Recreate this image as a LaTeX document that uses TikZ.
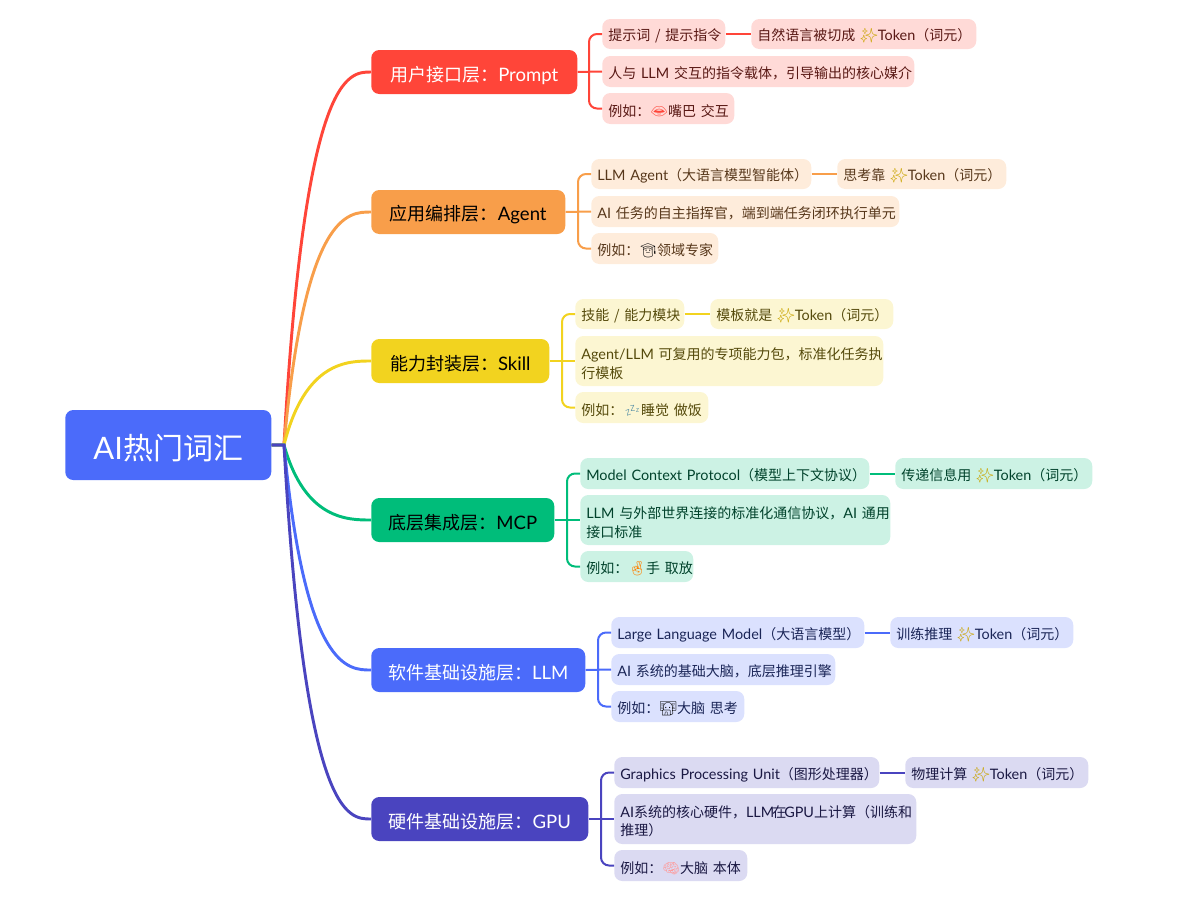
\documentclass[tikz,border=0pt]{standalone}
\usepackage{fontspec}
\setmainfont[Scale=1.03]{Lato}
\newfontfamily\cjkfont{Noto Sans CJK SC}
\newfontfamily\emojifont{Noto Emoji}
\newcommand{\zh}[1]{{\cjkfont #1}}
\newcommand{\emo}[2]{\textcolor{#1}{\emojifont #2}}
\newcommand{\tokenword}{\emo{sparkgold}{✨}Token\zh{（词元）}}

\definecolor{promptred}{HTML}{FF4539}
\definecolor{agentorange}{HTML}{F89E4A}
\definecolor{skillyellow}{HTML}{F2D31F}
\definecolor{mcpgreen}{HTML}{00BD7A}
\definecolor{llmblue}{HTML}{4B6BFA}
\definecolor{gpuviolet}{HTML}{4A44BF}
\definecolor{sparkgold}{HTML}{C9A400}

\tikzset{
  rootbox/.style={draw=none, fill=llmblue, text=white, rounded corners=6pt, anchor=west,
    minimum width=154.5pt, minimum height=52.5pt, font=\fontsize{22.5}{27}\selectfont,
    execute at begin node={\rule{0pt}{23pt}}},
  branchbox/.style 2 args={draw=none, fill=#1, rounded corners=6pt, anchor=west,
    minimum width={#2*0.75pt}, minimum height=33pt, font=\fontsize{13.5}{16}\selectfont,
    execute at begin node={\rule{0pt}{16pt}}},
  leafbox/.style n args={3}{fill=#1!20, text=#1!35!black, rounded corners=6pt, anchor=west,
    inner xsep=4.5pt, inner ysep=0pt, text width={(#2-12)*0.75pt}, align=left,
    minimum height={#3*0.75pt}, font=\fontsize{10.5}{14.2}\selectfont,
    execute at begin node={\hyphenpenalty=10000\rule{0pt}{12.2pt}}},
  bough/.style={draw=#1, line width=2.2pt},
  twig/.style={draw=#1, line width=1.5pt, rounded corners=6pt}
}

\begin{document}
\begin{tikzpicture}[x=0.75pt, y=-0.75pt]
    \useasboundingbox (0,0) rectangle (1201,900);

    % -----------------------------------------------------
    % 1) Central topic and the six layers
    % -----------------------------------------------------
    \node[rootbox] (root) at (65,445) {AI\zh{热门词汇}};
    \coordinate (hub) at (284,445);

    \node[branchbox={promptred}{206}, text=white] (prompt) at (371,72) {\zh{用户接口层：}Prompt};
    \node[branchbox={agentorange}{194}] (agent) at (371,212) {\zh{应用编排层：}Agent};
    \node[branchbox={skillyellow}{178}] (skill) at (371,361) {\zh{能力封装层：}Skill};
    \node[branchbox={mcpgreen}{183}] (mcp) at (371,520) {\zh{底层集成层：}MCP};
    \node[branchbox={llmblue}{214}, text=white] (llm) at (371,670) {\zh{软件基础设施层：}LLM};
    \node[branchbox={gpuviolet}{217}, text=white] (gpu) at (371,819) {\zh{硬件基础设施层：}GPU};

    % Curves from the hub, last one lies on top of the stub
    \draw[bough=promptred] (root.east) -- (hub) .. controls (305,72) and (348,72) .. (prompt.west);
    \draw[bough=agentorange] (root.east) -- (hub) .. controls (305,212) and (348,212) .. (agent.west);
    \draw[bough=skillyellow] (root.east) -- (hub) .. controls (305,361) and (348,361) .. (skill.west);
    \draw[bough=mcpgreen] (root.east) -- (hub) .. controls (305,520) and (348,520) .. (mcp.west);
    \draw[bough=llmblue] (root.east) -- (hub) .. controls (305,670) and (348,670) .. (llm.west);
    \draw[bough=gpuviolet] (root.east) -- (hub) .. controls (305,819) and (348,819) .. (gpu.west);

    % -----------------------------------------------------
    % 2) Prompt
    % -----------------------------------------------------
    \node[leafbox={promptred}{123}{30}] (prompt1) at (602,34) {\zh{提示词~/~提示指令}};
    \node[leafbox={promptred}{225}{30}] (prompt1b) at (751,34) {\zh{自然语言被切成}~\tokenword};
    \node[leafbox={promptred}{312}{31}] (prompt2) at (602,71.5) {\zh{人与}~LLM~\zh{交互的指令载体，引导输出的核心媒介}};
    \node[leafbox={promptred}{132}{31}] (prompt3) at (602,108.5) {\zh{例如：}\emo{promptred}{👄}\zh{嘴巴~交互}};
    \coordinate (promptbus) at (589,72);
    \draw[twig=promptred] (prompt1.west) -| (promptbus) |- (prompt3.west);
    \draw[twig=promptred] (prompt.east) -- (prompt2.west);
    \draw[twig=promptred] (prompt1.east) -- (prompt1b.west);

    % -----------------------------------------------------
    % 3) Agent
    % -----------------------------------------------------
    \node[leafbox={agentorange}{220}{30}] (agent1) at (591,174) {LLM~Agent\zh{（大语言模型智能体）}};
    \node[leafbox={agentorange}{169}{30}] (agent1b) at (837,174) {\zh{思考靠}~\tokenword};
    \node[leafbox={agentorange}{308}{31}] (agent2) at (591,211.5) {AI~\zh{任务的自主指挥官，端到端任务闭环执行单元}};
    \node[leafbox={agentorange}{127}{31}] (agent3) at (591,248.5) {\zh{例如：}\emo{black}{🧑‍🎓}\zh{领域专家}};
    \coordinate (agentbus) at (578,212);
    \draw[twig=agentorange] (agent1.west) -| (agentbus) |- (agent3.west);
    \draw[twig=agentorange] (agent.east) -- (agent2.west);
    \draw[twig=agentorange] (agent1.east) -- (agent1b.west);

    % -----------------------------------------------------
    % 4) Skill
    % -----------------------------------------------------
    \node[leafbox={skillyellow}{109}{30}] (skill1) at (575,314) {\zh{技能~/~能力模块}};
    \node[leafbox={skillyellow}{183}{30}] (skill1b) at (710,314) {\zh{模板就是}~\tokenword};
    \node[leafbox={skillyellow}{308}{50}] (skill2) at (575,361) {Agent/LLM~\zh{可复用的专项能力包，标准化任务执}\\\zh{行模板}};
    \node[leafbox={skillyellow}{133}{31}] (skill3) at (575,407.5) {\zh{例如：}\emo{cyan!60!black}{💤}\zh{睡觉~做饭}};
    \coordinate (skillbus) at (562,361);
    \draw[twig=skillyellow] (skill1.west) -| (skillbus) |- (skill3.west);
    \draw[twig=skillyellow] (skill.east) -- (skill2.west);
    \draw[twig=skillyellow] (skill1.east) -- (skill1b.west);

    % -----------------------------------------------------
    % 5) MCP
    % -----------------------------------------------------
    \node[leafbox={mcpgreen}{289}{31}] (mcp1) at (580,473.5) {Model~Context~Protocol\zh{（模型上下文协议）}};
    \node[leafbox={mcpgreen}{197}{31}] (mcp1b) at (895,473.5) {\zh{传递信息用}~\tokenword};
    \node[leafbox={mcpgreen}{310}{50}] (mcp2) at (580,520) {LLM~\zh{与外部世界连接的标准化通信协议，}AI~\zh{通用}\\\zh{接口标准}};
    \node[leafbox={mcpgreen}{113}{31}] (mcp3) at (580,566.5) {\zh{例如：}\emo{orange}{🤞}\zh{手~取放}};
    \coordinate (mcpbus) at (567,520);
    \draw[twig=mcpgreen] (mcp1.west) -| (mcpbus) |- (mcp3.west);
    \draw[twig=mcpgreen] (mcp.east) -- (mcp2.west);
    \draw[twig=mcpgreen] (mcp1.east) -- (mcp1b.west);

    % -----------------------------------------------------
    % 6) LLM
    % -----------------------------------------------------
    \node[leafbox={llmblue}{253}{31}] (llm1) at (611,632.5) {Large~Language~Model\zh{（大语言模型）}};
    \node[leafbox={llmblue}{183}{31}] (llm1b) at (890,632.5) {\zh{训练推理}~\tokenword};
    \node[leafbox={llmblue}{224}{31}] (llm2) at (611,669.5) {AI~\zh{系统的基础大脑，底层推理引擎}};
    \node[leafbox={llmblue}{133}{31}] (llm3) at (611,706.5) {\zh{例如：}\emo{black}{🧑‍💻}\zh{大脑~思考}};
    \coordinate (llmbus) at (598,670);
    \draw[twig=llmblue] (llm1.west) -| (llmbus) |- (llm3.west);
    \draw[twig=llmblue] (llm.east) -- (llm2.west);
    \draw[twig=llmblue] (llm1.east) -- (llm1b.west);

    % -----------------------------------------------------
    % 7) GPU
    % -----------------------------------------------------
    \node[leafbox={gpuviolet}{265}{31}] (gpu1) at (614,772.5) {Graphics~Processing~Unit\zh{（图形处理器）}};
    \node[leafbox={gpuviolet}{183}{31}] (gpu1b) at (905,772.5) {\zh{物理计算}~\tokenword};
    \node[leafbox={gpuviolet}{302}{50}] (gpu2) at (614,819) {AI\zh{系统的核心硬件，}LLM\kern-1.5pt\zh{在}\kern-1.5pt GPU\zh{上计算（训练和}\\\zh{推理）}};
    \node[leafbox={gpuviolet}{133}{31}] (gpu3) at (614,865.5) {\zh{例如：}\emo{pink!80!red}{🧠}\zh{大脑~本体}};
    \coordinate (gpubus) at (601,819);
    \draw[twig=gpuviolet] (gpu1.west) -| (gpubus) |- (gpu3.west);
    \draw[twig=gpuviolet] (gpu.east) -- (gpu2.west);
    \draw[twig=gpuviolet] (gpu1.east) -- (gpu1b.west);

\end{tikzpicture}
\end{document}
